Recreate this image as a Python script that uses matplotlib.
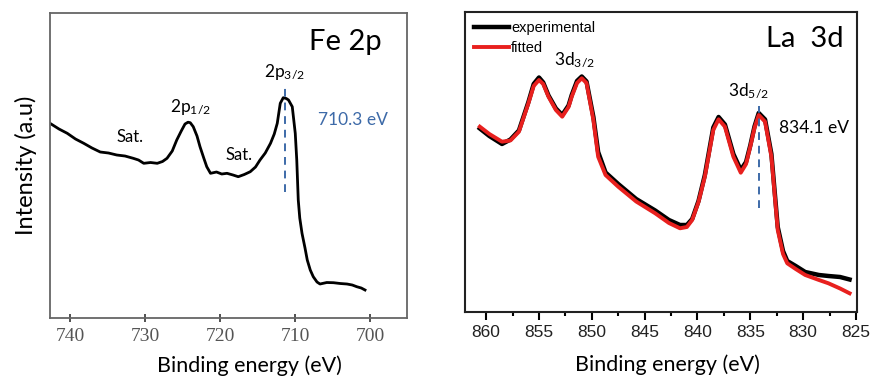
import matplotlib
matplotlib.use("Agg")
import matplotlib.pyplot as plt
from matplotlib.ticker import MultipleLocator

plt.rcParams['font.family'] = ['Lato', 'DejaVu Sans']
plt.rcParams['mathtext.default'] = 'regular'

# Fe 2p spectrum (binding energy in eV, intensity in arbitrary units)
fe_energy = [742.7, 741.5, 740.4, 739.3, 738.2, 737.1, 736.0, 734.9, 733.8, 732.7,
             731.6, 730.9, 730.2, 729.3, 728.4, 727.7, 727.1, 726.4, 725.8, 725.2,
             724.7, 724.3, 724.0, 723.6, 723.1, 722.7, 722.2, 721.8, 721.3, 720.5,
             719.8, 719.1, 718.3, 717.6, 716.8, 716.0, 715.3, 714.7, 714.0, 713.3,
             712.8, 712.4, 712.0, 711.6, 711.2, 710.9, 710.4, 710.0, 709.8, 709.6,
             709.4, 709.1, 708.7, 708.4, 708.0, 707.6, 707.1, 706.7, 705.8, 704.9,
             704.0, 703.1, 702.4, 701.8, 701.2, 700.7]
fe_counts = [194.7, 189.0, 184.7, 179.0, 174.7, 170.0, 166.0, 165.0, 163.0, 162.0,
             159.7, 158.0, 154.7, 155.5, 154.7, 156.5, 159.7, 167.0, 178.0, 187.0,
             194.0, 195.8, 195.3, 191.3, 182.0, 171.3, 160.0, 151.3, 144.7, 146.0,
             144.0, 144.7, 143.0, 141.3, 143.5, 146.3, 151.0, 158.0, 165.0, 174.7,
             184.0, 194.7, 214.7, 220.3, 219.5, 218.0, 211.3, 184.7, 158.0, 118.0,
             100.0, 84.7, 70.0, 58.0, 48.0, 41.3, 36.0, 34.0, 35.5, 35.3,
             34.5, 34.0, 33.0, 31.3, 30.0, 28.0]

# La 3d spectrum
la_energy = [860.6, 859.7, 858.5, 857.7, 856.9, 856.0, 855.5, 855.0, 854.6, 854.1,
             853.4, 852.8, 852.2, 851.9, 851.4, 850.95, 850.5, 849.85, 849.4, 848.7,
             847.5, 845.8, 844.0, 842.7, 841.65, 841.0, 840.5, 839.9, 839.3, 838.5,
             838.0, 837.4, 836.6, 835.9, 835.4, 835.0, 834.6, 834.2, 833.6, 833.0,
             832.4, 831.9, 831.5, 830.7, 829.8, 828.5, 827.6, 826.5, 825.6]
la_fitted = [185.3, 178.0, 170.3, 171.5, 180.3, 208.7, 226.0, 232.0, 228.0, 215.3,
             202.0, 195.3, 205.0, 215.3, 229.0, 233.7, 229.0, 192.0, 155.3, 137.0,
             125.3, 110.5, 98.7, 89.0, 83.7, 85.0, 92.0, 110.0, 135.3, 182.0,
             192.7, 185.3, 155.3, 139.3, 148.0, 165.3, 184.0, 197.0, 190.3, 155.3,
             82.0, 58.0, 48.7, 43.0, 37.0, 32.0, 28.7, 23.5, 18.7]
la_experimental = [183.5, 176.0, 168.0, 172.5, 181.5, 210.0, 228.0, 234.5, 229.5, 216.5,
                   203.5, 197.0, 206.5, 217.0, 231.0, 235.5, 230.5, 195.0, 160.0, 139.5,
                   128.0, 113.0, 101.5, 92.0, 87.0, 87.0, 93.0, 111.0, 137.0, 184.5,
                   195.0, 187.5, 158.0, 142.0, 150.0, 166.5, 185.5, 199.0, 192.5, 158.0,
                   85.0, 61.0, 51.0, 46.0, 40.0, 37.0, 36.0, 35.0, 32.5]

fe_ticks = [740, 730, 720, 710, 700]
la_ticks = [860, 855, 850, 845, 840, 835, 830, 825]

fig = plt.figure(figsize=(8.71, 3.78), dpi=100)

# ---- Fe 2p panel ----
ax1 = fig.add_axes([0.0574, 0.1587, 0.4099, 0.8069])
ax1.plot(fe_energy, fe_counts, color='black', lw=2.0)
ax1.set_xlim(742.7, 695.1)
ax1.set_ylim(0, 305)
ax1.set_xticks(fe_ticks)
ax1.set_yticks([])
ax1.tick_params(axis='x', direction='inout', length=6, width=1.2, color='#333333',
                labelsize=14, labelcolor='#555555', pad=4,
                labelfontfamily='Liberation Serif')
for sp in ax1.spines.values():
    sp.set_color('#666666')
    sp.set_linewidth(1.3)
ax1.set_xlabel('Binding energy (eV)', fontsize=15.5)
ax1.xaxis.set_label_coords(0.56, -0.121)
ax1.set_ylabel('Intensity (a.u)', fontsize=17, labelpad=9)
ax1.vlines(711.4, 126, 230, colors='#3d6aa8', linestyles=(0, (4, 3)), lw=1.4)
ax1.text(0.93, 0.905, 'Fe 2p', transform=ax1.transAxes, fontsize=21,
         ha='right', va='center')
ax1.text(711.4, 246, '2p$_{3/2}$', fontsize=12.5, ha='center', va='center')
ax1.text(724.0, 211, '2p$_{1/2}$', fontsize=12.5, ha='center', va='center')
ax1.text(732.0, 181, 'Sat.', fontsize=12, ha='center', va='center')
ax1.text(717.5, 163, 'Sat.', fontsize=12, ha='center', va='center')
ax1.text(702.3, 198, '710.3 eV', fontsize=12.5, color='#3d6aa8', ha='center', va='center')

# ---- La 3d panel ----
ax2 = fig.add_axes([0.5339, 0.1746, 0.4500, 0.7937])
ax2.plot(la_energy, la_experimental, color='black', lw=3.2, label='experimental')
ax2.plot(la_energy, la_fitted, color='#e8201e', lw=2.8, label='fitted')
ax2.set_xlim(862.0, 824.9)
ax2.set_ylim(0, 300)
ax2.set_xticks(la_ticks)
ax2.xaxis.set_minor_locator(MultipleLocator(2.5))
ax2.set_yticks([])
ax2.tick_params(axis='x', which='major', direction='out', length=6, width=1.5,
                labelsize=12.5, labelcolor='#222222', pad=3,
                labelfontfamily='Liberation Sans')
ax2.tick_params(axis='x', which='minor', direction='out', length=3, width=1.5)
for sp in ax2.spines.values():
    sp.set_color('#222222')
    sp.set_linewidth(1.5)
ax2.set_xlabel('Binding energy (eV)', fontsize=15.5)
ax2.xaxis.set_label_coords(0.517, -0.143)
ax2.vlines(834.13, 104, 206, colors='#3d6aa8', linestyles=(0, (4, 3)), lw=1.4)
ax2.text(0.965, 0.91, 'La  3d', transform=ax2.transAxes, fontsize=21,
         ha='right', va='center')
ax2.text(851.6, 252, '3d$_{3/2}$', fontsize=12.5, ha='center', va='center')
ax2.text(835.2, 221, '3d$_{5/2}$', fontsize=12.5, ha='center', va='center')
ax2.text(829.0, 184, '834.1 eV', fontsize=12.5, ha='center', va='center')
ax2.legend(loc='upper left', frameon=False, handlelength=2.4,
           handletextpad=0.15, labelspacing=0.45, borderaxespad=0.2,
           prop={'family': 'Liberation Sans', 'size': 10.5})

fig.savefig('out.png', dpi=100)
